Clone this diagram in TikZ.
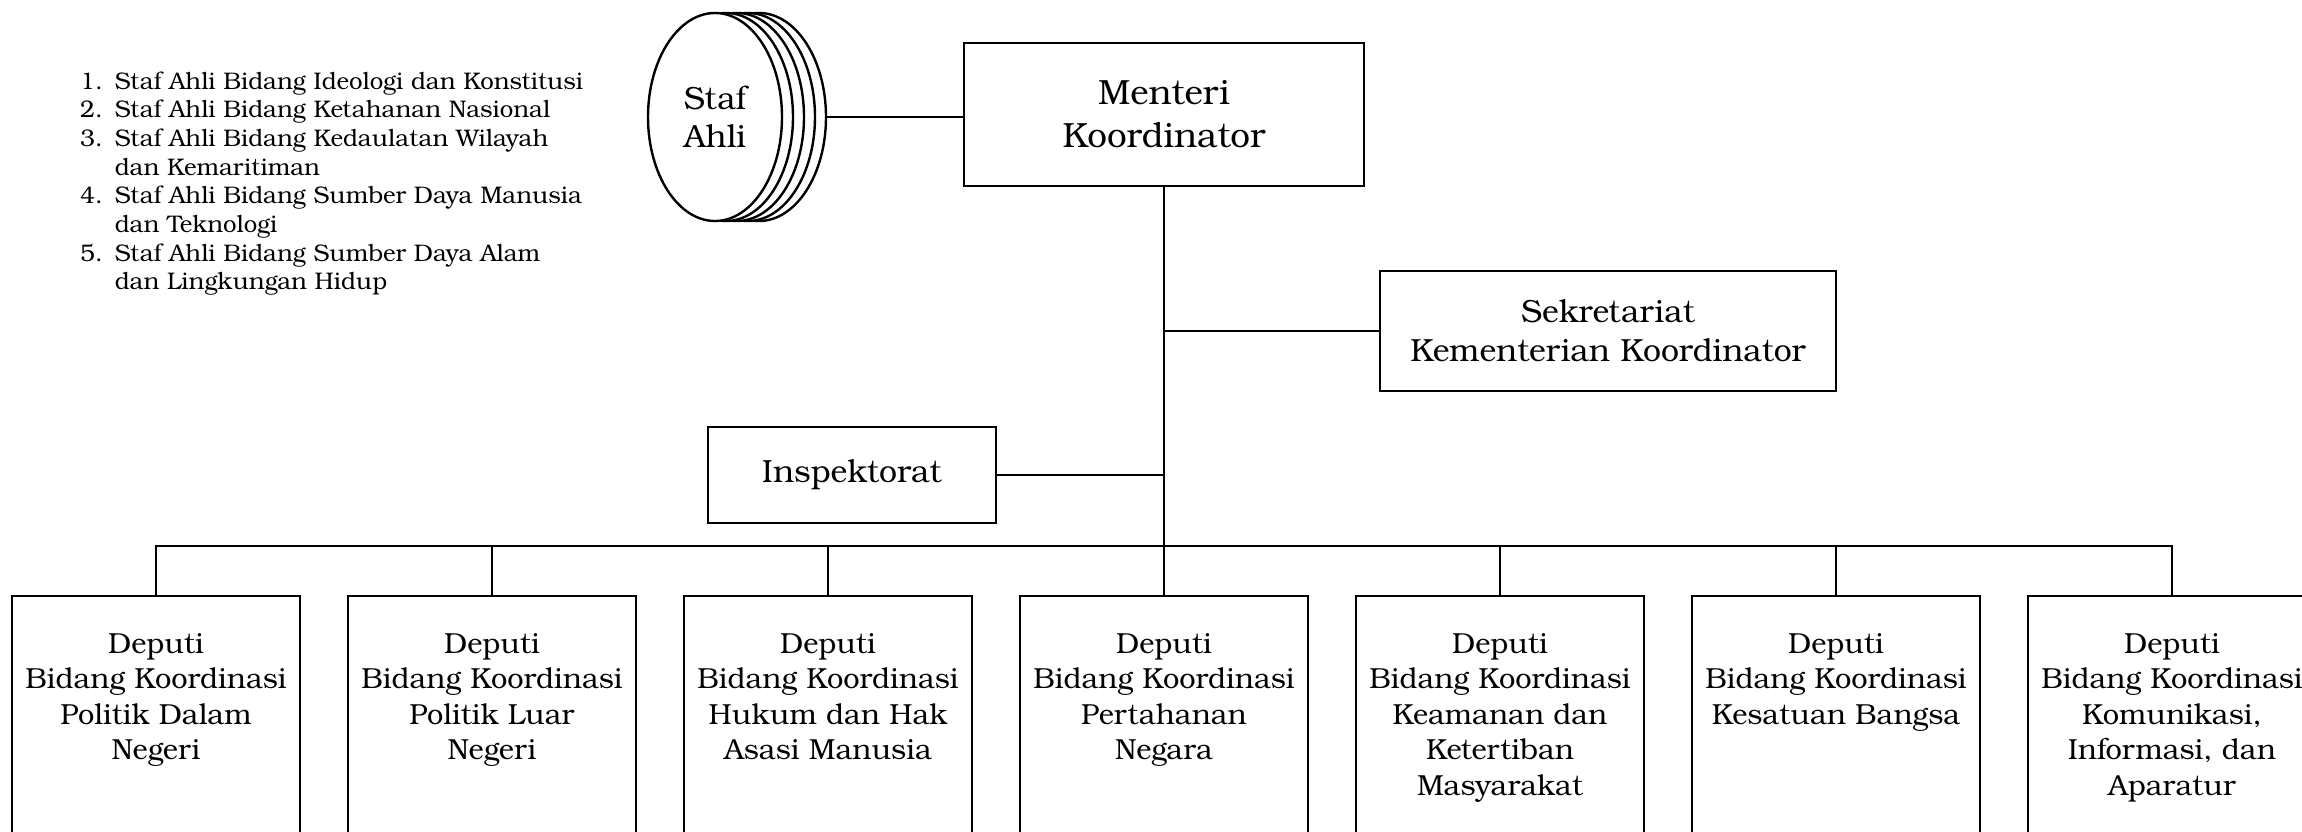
\documentclass[tikz,border=0pt]{standalone}
\usepackage{fontspec}
\setmainfont{TeX Gyre Bonum}
\usetikzlibrary{shapes.geometric}
\begin{document}
\begin{tikzpicture}[x=0.5pt,y=-0.5pt, line width=1.2pt,
  box/.style={draw, line width=1.2pt, inner sep=0pt, align=center},
  conn/.style={line width=1.2pt},
  dep/.style={draw, line width=1.2pt, minimum width=144pt, minimum height=160pt, anchor=north, inner sep=0pt},
  deptext/.style={anchor=north, inner sep=0pt, align=center, font=\fontsize{14.5}{17.75}\selectfont},
  ell/.style={draw, ellipse, fill=white, line width=1.2pt, minimum width=67pt, minimum height=104pt, inner sep=0pt, align=center}]
\path[use as bounding box, clip] (0,0) rectangle (2302,831);

% list of staf ahli
\node[anchor=base west, inner sep=0pt, font=\fontsize{12}{14.35}\selectfont] (list) at (79,89) {%
\begin{tabular}[t]{@{}l@{\hspace{6pt}}l@{}}
1. & Staf Ahli Bidang Ideologi dan Konstitusi\\
2. & Staf Ahli Bidang Ketahanan Nasional\\
3. & Staf Ahli Bidang Kedaulatan Wilayah\\
   & dan Kemaritiman\\
4. & Staf Ahli Bidang Sumber Daya Manusia\\
   & dan Teknologi\\
5. & Staf Ahli Bidang Sumber Daya Alam\\
   & dan Lingkungan Hidup
\end{tabular}};

% stacked ellipses
\node[ell] (staf4) at (759,117) {};
\node[ell] (staf3) at (748,117) {};
\node[ell] (staf2) at (737,117) {};
\node[ell] (staf1) at (726,117) {};
\node[ell, font=\fontsize{16}{19}\selectfont] (staf) at (715,117) {Staf\\Ahli};

% main boxes
\node[box, minimum width=200pt, minimum height=71.5pt, font=\fontsize{17.5}{21.5}\selectfont] (menteri) at (1164,114.5) {Menteri\\Koordinator};
\node[box, minimum width=228pt, minimum height=60pt, font=\fontsize{16}{19.5}\selectfont] (sek) at (1608,331) {Sekretariat\\Kementerian Koordinator};
\node[box, minimum width=144pt, minimum height=48pt, font=\fontsize{16}{19.5}\selectfont] (insp) at (852,475) {Inspektorat};

% deputi boxes
\node[dep] (d1) at (156,595) {};
\node[dep] (d2) at (492,595) {};
\node[dep] (d3) at (828,595) {};
\node[dep] (d4) at (1164,595) {};
\node[dep] (d5) at (1500,595) {};
\node[dep] (d6) at (1836,595) {};
\node[dep] (d7) at (2172,595) {};

\node[deptext] (t1) at (156,632) {Deputi\\Bidang Koordinasi\\Politik Dalam\\Negeri};
\node[deptext] (t2) at (492,632) {Deputi\\Bidang Koordinasi\\Politik Luar\\Negeri};
\node[deptext] (t3) at (828,632) {Deputi\\Bidang Koordinasi\\Hukum dan Hak\\Asasi Manusia};
\node[deptext] (t4) at (1164,632) {Deputi\\Bidang Koordinasi\\Pertahanan\\Negara};
\node[deptext] (t5) at (1500,632) {Deputi\\Bidang Koordinasi\\Keamanan dan\\Ketertiban\\Masyarakat};
\node[deptext] (t6) at (1836,632) {Deputi\\Bidang Koordinasi\\Kesatuan Bangsa};
\node[deptext] (t7) at (2172,632) {Deputi\\Bidang Koordinasi\\Komunikasi,\\Informasi, dan\\Aparatur};

% connectors
\coordinate (bus) at (1164,546);
\draw[conn] (staf4.east) -- (staf4.east -| menteri.west);
\draw[conn] (menteri.south) -- (bus);
\draw[conn] (menteri.south |- sek.west) -- (sek.west);
\draw[conn] (insp.east) -- (insp.east -| menteri.south);
\draw[conn] (d1.north) |- (bus) -| (d7.north);
\foreach \i in {2,...,6} {\draw[conn] (d\i.north) -- (d\i.north |- bus);}
\end{tikzpicture}
\end{document}
